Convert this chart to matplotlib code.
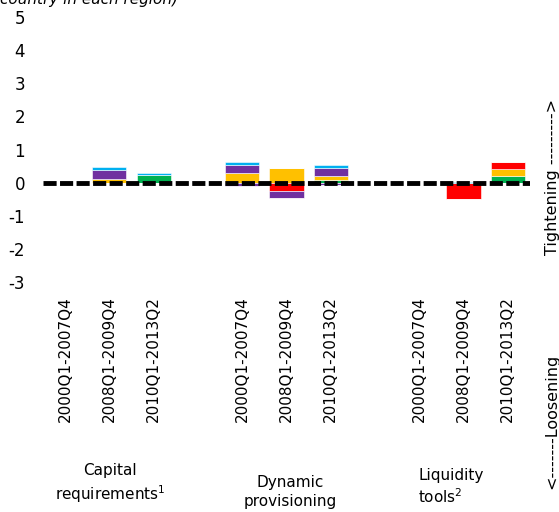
import numpy as np
import matplotlib
matplotlib.use("Agg")
import matplotlib.pyplot as plt

plt.rcParams["font.family"] = ["DejaVu Sans"]
plt.rcParams["axes.unicode_minus"] = False

# slots: 3 periods per tool, one blank slot between tools
periods = ["2000Q1-2007Q4", "2008Q1-2009Q4", "2010Q1-2013Q2"]
positions = [0, 1, 2, 4, 5, 6, 8, 9, 10]
tick_labels = periods * 3
groups = ["Capital\nrequirements$^{1}$", "Dynamic\nprovisioning", "Liquidity\ntools$^{2}$"]

series_colors = ["#00B050", "#FFC000", "#FF0000", "#7030A0", "#00B0F0"]

# positive contributions per series (green, yellow, red, purple, blue)
pos_green = [0, 0, 0.22, 0, 0, 0.08, 0, 0, 0.20]
pos_yellow = [0, 0.12, 0, 0.30, 0.45, 0.13, 0, 0, 0.20]
pos_red = [0, 0, 0, 0, 0, 0, 0, 0, 0.23]
pos_purple = [0, 0.25, 0, 0.22, 0, 0.22, 0, 0, 0]
pos_blue = [0, 0.10, 0.08, 0.10, 0, 0.10, 0, 0.03, 0]

# negative contributions per series
neg_green = [0, 0, 0, 0, 0, 0, 0, 0, 0]
neg_yellow = [0, 0, 0, 0, 0, 0, 0, 0, 0]
neg_red = [0, 0, 0, 0, -0.25, 0, 0, -0.50, 0]
neg_purple = [0, 0, 0, -0.10, -0.20, -0.08, 0, 0, 0]
neg_blue = [0, 0, 0, 0, 0, 0, 0, 0, 0]

pos = [pos_green, pos_yellow, pos_red, pos_purple, pos_blue]
neg = [neg_green, neg_yellow, neg_red, neg_purple, neg_blue]

fig = plt.figure(figsize=(5.59, 5.12), dpi=100)
ax = fig.add_axes([0.077, 0.449, 0.871, 0.518])

x = np.array(positions, dtype=float)
bottom_p = np.zeros(len(x))
bottom_n = np.zeros(len(x))
for vals_p, vals_n, c in zip(pos, neg, series_colors):
    vp = np.array(vals_p)
    vn = np.array(vals_n)
    ax.bar(x, vp, bottom=bottom_p, width=0.77, color=c, edgecolor="white", linewidth=0.4, zorder=2)
    ax.bar(x, vn, bottom=bottom_n, width=0.77, color=c, edgecolor="white", linewidth=0.4, zorder=2)
    bottom_p += vp
    bottom_n += vn

ax.plot([-0.5, 10.5], [0, 0], color="black", linewidth=3.5,
        linestyle=(0, (2.7, 0.7)), zorder=3)

ax.set_xlim(-0.5, 10.5)
ax.set_ylim(-3, 5)
ax.set_yticks(range(-3, 6))
ax.set_xticks(positions)
ax.set_xticklabels(tick_labels, rotation=90, fontsize=11)
ax.tick_params(axis="y", length=0, pad=13, labelsize=12)
ax.tick_params(axis="x", length=0, pad=10)
for s in ax.spines.values():
    s.set_visible(False)

# group labels under the period labels
fig.text(110 / 559, 1 - 484 / 512, groups[0], ha="center", va="center", fontsize=11,
         multialignment="center", linespacing=1.3)
fig.text(290 / 559, 1 - 492 / 512, groups[1], ha="center", va="center", fontsize=11,
         multialignment="center", linespacing=1.3)
fig.text(418 / 559, 1 - 487 / 512, groups[2], ha="left", va="center", fontsize=11,
         multialignment="left", linespacing=1.3)

fig.text(552 / 559, 1 - 177 / 512, "Tightening --------->", rotation=90,
         ha="center", va="center", fontsize=11.5)
fig.text(552 / 559, 1 - 421 / 512, "<-------Loosening", rotation=90,
         ha="center", va="center", fontsize=11.5)

fig.text(0.0, 1 - 4 / 512, "country in each region)", ha="left", va="baseline",
         fontsize=11, style="italic")

fig.savefig("out.png", dpi=100)
